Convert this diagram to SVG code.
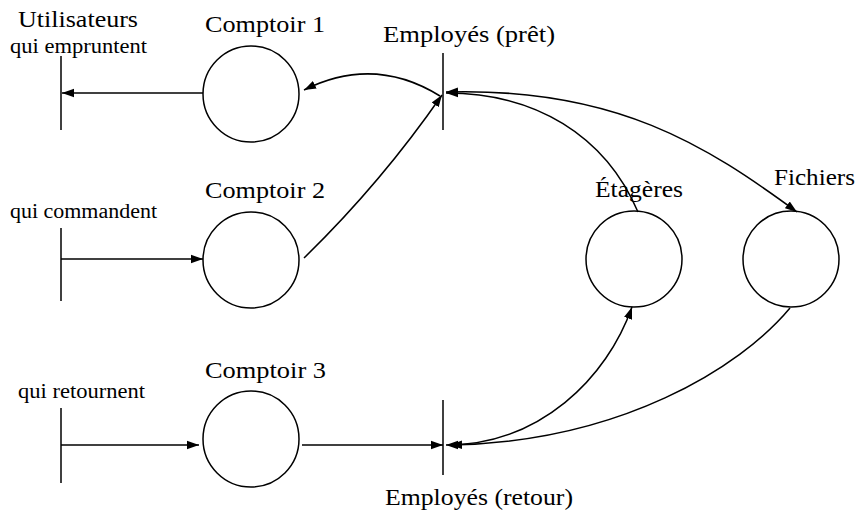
<svg xmlns="http://www.w3.org/2000/svg" width="859" height="517" viewBox="0 0 859 517">
<style>
  text { font-family: 'Liberation Serif', 'DejaVu Serif', serif; fill: #000; }
  .lbl { font-size: 24px; }
  .sm { font-size: 20px; }
  .node { fill: #fff; stroke: #000; stroke-width: 1.5; }
  .bar { stroke: #000; stroke-width: 1.5; fill: none; }
  .edge { stroke: #000; stroke-width: 1.5; fill: none; }
  .fw { marker-end: url(#ah); }
  .bi { marker-end: url(#ah); marker-start: url(#ah); }
</style>
<defs>
  <marker id="ah" markerUnits="userSpaceOnUse" markerWidth="14" markerHeight="10" refX="12" refY="5" orient="auto-start-reverse">
    <path d="M0,0.8 L12,5 L0,9.2 z" fill="#000"/>
  </marker>
</defs>
<rect width="859" height="517" fill="#fff"/>

<g id="utilisateurs-emprunt">
  <line class="bar" x1="61" y1="56" x2="61" y2="130"/>
  <text class="lbl" x="18" y="27" textLength="120" lengthAdjust="spacingAndGlyphs">Utilisateurs</text>
  <text class="sm" x="10" y="53" textLength="137" lengthAdjust="spacingAndGlyphs">qui empruntent</text>
</g>
<g id="utilisateurs-commande">
  <line class="bar" x1="61" y1="228" x2="61" y2="301"/>
  <text class="sm" x="10" y="218" textLength="147" lengthAdjust="spacingAndGlyphs">qui commandent</text>
</g>
<g id="utilisateurs-retour">
  <line class="bar" x1="61" y1="408" x2="61" y2="483"/>
  <text class="sm" x="18" y="398" textLength="127" lengthAdjust="spacingAndGlyphs">qui retournent</text>
</g>
<g id="comptoir1">
  <circle class="node" cx="251" cy="94" r="48"/>
  <text class="lbl" x="205" y="32" textLength="120" lengthAdjust="spacingAndGlyphs">Comptoir 1</text>
</g>
<g id="comptoir2">
  <circle class="node" cx="251" cy="260" r="48"/>
  <text class="lbl" x="205" y="198" textLength="120" lengthAdjust="spacingAndGlyphs">Comptoir 2</text>
</g>
<g id="comptoir3">
  <circle class="node" cx="251" cy="439" r="48"/>
  <text class="lbl" x="205" y="378" textLength="121" lengthAdjust="spacingAndGlyphs">Comptoir 3</text>
</g>
<g id="employes-pret">
  <line class="bar" x1="443" y1="53" x2="443" y2="130"/>
  <text class="lbl" x="383" y="42" textLength="172" lengthAdjust="spacingAndGlyphs">Employés (prêt)</text>
</g>
<g id="employes-retour">
  <line class="bar" x1="443" y1="400" x2="443" y2="475"/>
  <text class="lbl" x="385" y="505" textLength="188" lengthAdjust="spacingAndGlyphs">Employés (retour)</text>
</g>
<g id="etageres">
  <circle class="node" cx="634" cy="259" r="48"/>
  <text class="lbl" x="595" y="197" textLength="88" lengthAdjust="spacingAndGlyphs">Étagères</text>
</g>
<g id="fichiers">
  <circle class="node" cx="791" cy="259" r="48"/>
  <text class="lbl" x="774" y="185" textLength="81" lengthAdjust="spacingAndGlyphs">Fichiers</text>
</g>

<g id="connectors">
  <line class="edge fw" x1="203" y1="93" x2="62" y2="93"/>
  <line class="edge fw" x1="61" y1="259" x2="203" y2="259"/>
  <line class="edge fw" x1="61" y1="445" x2="199" y2="445"/>
  <line class="edge fw" x1="302" y1="445" x2="443" y2="445"/>
  <path class="edge fw" d="M440,96 Q374,55 304,90"/>
  <path class="edge fw" d="M304,258 Q381,183 442,95"/>
  <path class="edge fw" d="M638,212 C605,135 535,93 446,93"/>
  <path class="edge bi" d="M446,92 C616,87 707,146 797,212"/>
  <path class="edge bi" d="M446,445 C540,445 607,378 632,307"/>
  <path class="edge fw" d="M790,308 C740,368 620,442 450,445"/>
</g>
</svg>
